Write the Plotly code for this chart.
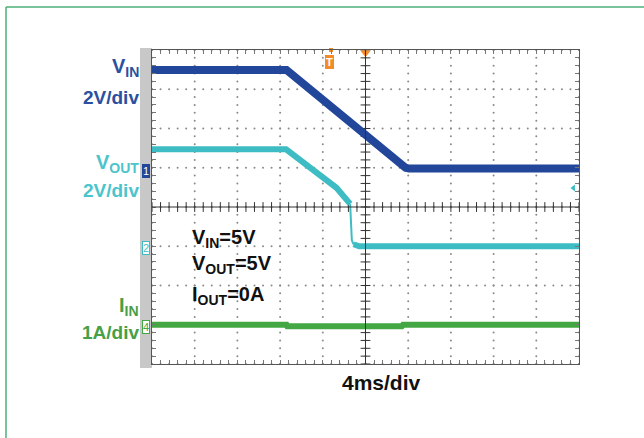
import plotly.graph_objects as go

# ---------------- data (oscilloscope divisions: x 0..10, y 0..8) ----------------
vin_t = [0.0, 3.15, 5.94, 6.02, 10.0]
vin_v = [7.49, 7.49, 5.00, 4.98, 4.98]

vout_t = [0.0, 3.14, 4.32, 4.47, 4.58, 4.64, 4.665, 4.68, 4.72, 4.85, 10.0]
vout_v = [5.47, 5.47, 4.49, 4.30, 4.18, 4.08, 3.60, 3.15, 3.05, 3.00, 3.00]

iin_t = [0.0, 3.15, 3.17, 5.85, 5.88, 10.0]
iin_v = [1.00, 1.00, 0.96, 0.96, 1.00, 1.00]

ch_labels = [("V<sub>IN</sub>", "2V/div"), ("V<sub>OUT</sub>", "2V/div"), ("I<sub>IN</sub>", "1A/div")]
cond_labels = ["V<sub>IN</sub>=5V", "V<sub>OUT</sub>=5V", "I<sub>OUT</sub>=0A"]
time_label = "4ms/div"

# ---------------- layout geometry ----------------
W, H = 644, 438
L, R, T, B = 152, 579, 50, 364
pw, ph = R - L, B - T

def xp(px):
    return (px - L) / pw

def yp(py):
    return (B - py) / ph

C_VIN = "#22479a"
C_VOUT = "#3dbdc3"
C_IIN = "#43a843"
T_VIN = "#2c50a0"
T_VOUT = "#4cc4cc"
T_IIN = "#479f47"
FONT = "Liberation Sans, Arial, sans-serif"

fig = go.Figure()

# grid dots
gx, gy = [], []
for j in range(9):
    for k in range(51):
        gx.append(k * 0.2); gy.append(j)
for i in range(11):
    for k in range(41):
        gx.append(i); gy.append(k * 0.2)
fig.add_trace(go.Scatter(x=gx, y=gy, mode="markers",
                         marker=dict(size=2, color="#8a8a8a"), hoverinfo="skip"))

# center cross ticks
tx = [k * 0.2 for k in range(51)]
fig.add_trace(go.Scatter(x=tx, y=[4] * len(tx), mode="markers",
                         marker=dict(symbol="line-ns", size=7, line=dict(width=1, color="#333")),
                         hoverinfo="skip"))
ty = [k * 0.2 for k in range(41)]
fig.add_trace(go.Scatter(x=[5] * len(ty), y=ty, mode="markers",
                         marker=dict(symbol="line-ew", size=7, line=dict(width=1, color="#333")),
                         hoverinfo="skip"))

# waveforms
fig.add_trace(go.Scatter(x=iin_t, y=iin_v, mode="lines",
                         line=dict(color=C_IIN, width=6), hoverinfo="skip"))
fig.add_trace(go.Scatter(x=vout_t[:6], y=vout_v[:6], mode="lines",
                         line=dict(color=C_VOUT, width=6), hoverinfo="skip"))
fig.add_trace(go.Scatter(x=vout_t[5:9], y=vout_v[5:9], mode="lines",
                         line=dict(color=C_VOUT, width=2), hoverinfo="skip"))
fig.add_trace(go.Scatter(x=vout_t[8:], y=vout_v[8:], mode="lines",
                         line=dict(color=C_VOUT, width=6), hoverinfo="skip"))
fig.add_trace(go.Scatter(x=vin_t, y=vin_v, mode="lines",
                         line=dict(color=C_VIN, width=8), hoverinfo="skip"))

# trigger marks
fig.add_trace(go.Scatter(x=[5.0], y=[7.93], mode="markers", cliponaxis=False,
                         marker=dict(symbol="triangle-down", size=9, color="#f28c28"),
                         hoverinfo="skip"))
fig.add_trace(go.Scatter(x=[(331 - L) / 42.7], y=[8.0], mode="markers", cliponaxis=False,
                         marker=dict(symbol="square", size=4, color="#f28c28"),
                         hoverinfo="skip"))
fig.add_trace(go.Scatter(x=[9.87], y=[(B - 188) / 39.25], mode="markers", cliponaxis=False,
                         marker=dict(symbol="triangle-left", size=6, color=C_VOUT),
                         hoverinfo="skip"))
# bottom small marks
fig.add_trace(go.Scatter(x=[(162 - L) / 42.7, (486 - L) / 42.7], y=[-0.13, -0.13], mode="markers",
                         cliponaxis=False,
                         marker=dict(symbol="line-ew", size=8, line=dict(width=2, color=C_VOUT)),
                         hoverinfo="skip"))
fig.add_trace(go.Scatter(x=[(335 - L) / 42.7, (530 - L) / 42.7], y=[-0.08, -0.08], mode="markers",
                         cliponaxis=False,
                         marker=dict(symbol="triangle-down", size=5, color="#aaaaaa"),
                         hoverinfo="skip"))

shapes = [
    # gray strip
    dict(type="rect", xref="paper", yref="paper", x0=xp(140), x1=xp(152), y0=yp(368), y1=yp(48),
         fillcolor="#c8c8c8", line=dict(width=0), layer="below"),
    # center cross
    dict(type="line", xref="x", yref="y", x0=5, x1=5, y0=0, y1=8, line=dict(color="#333", width=1)),
    dict(type="line", xref="x", yref="y", x0=0, x1=10, y0=4, y1=4, line=dict(color="#333", width=1)),
    # page border (top and left)
    dict(type="line", xref="paper", yref="paper", x0=xp(6), x1=xp(650), y0=yp(7), y1=yp(7),
         line=dict(color="#4caf78", width=1.5)),
    dict(type="line", xref="paper", yref="paper", x0=xp(6), x1=xp(6), y0=yp(7), y1=yp(445),
         line=dict(color="#4caf78", width=1.5)),
]

ann = []
# channel labels (left)
lab_pos = [(67, 97), (163, 190), (306, 332)]
lab_col = [T_VIN, T_VOUT, T_IIN]
for (a, b), (ya, yb), c in zip(ch_labels, lab_pos, lab_col):
    ann.append(dict(xref="paper", yref="paper", x=xp(141), y=yp(ya), xanchor="right", yanchor="middle",
                    text="<b>" + a + "</b>", showarrow=False, font=dict(family=FONT, size=20, color=c)))
    ann.append(dict(xref="paper", yref="paper", x=xp(141), y=yp(yb), xanchor="right", yanchor="middle",
                    text="<b>" + b + "</b>", showarrow=False, font=dict(family=FONT, size=19, color=c)))

# conditions text inside
for txt, yy in zip(cond_labels, [238, 264, 295]):
    ann.append(dict(xref="paper", yref="paper", x=xp(190), y=yp(yy), xanchor="left", yanchor="middle",
                    text="<b>" + txt + "</b>", showarrow=False,
                    font=dict(family=FONT, size=20, color="#111")))

ann.append(dict(xref="paper", yref="paper", x=xp(381), y=yp(382), xanchor="center", yanchor="middle",
                text="<b>" + time_label + "</b>", showarrow=False,
                font=dict(family=FONT, size=21, color="#111")))

# channel ground markers
for txt, py, fg, bg, bc in [("1", 171, "white", C_VIN, C_VIN),
                            ("2", 248, C_VOUT, "white", C_VOUT),
                            ("4", 327, C_IIN, "white", C_IIN)]:
    ann.append(dict(xref="paper", yref="paper", x=xp(146), y=yp(py), xanchor="center", yanchor="middle",
                    text=txt, showarrow=False, font=dict(family=FONT, size=11, color=fg),
                    bgcolor=bg, bordercolor=bc, borderwidth=1, borderpad=0))
# trigger T
ann.append(dict(xref="paper", yref="paper", x=xp(329), y=yp(62), xanchor="center", yanchor="middle",
                text="<b>T</b>", showarrow=False, font=dict(family=FONT, size=11, color="white"),
                bgcolor="#f28c28", bordercolor="#f28c28", borderwidth=1, borderpad=0))

fig.update_layout(
    width=W, height=H,
    margin=dict(l=L, r=W - R, t=T, b=H - B),
    paper_bgcolor="white", plot_bgcolor="white",
    showlegend=False,
    shapes=shapes, annotations=ann,
    xaxis=dict(range=[0, 10], showgrid=False, zeroline=False, showticklabels=False,
               showline=True, linecolor="#555", linewidth=1, mirror="ticks",
               ticks="inside", dtick=0.2, tick0=0, ticklen=4, tickcolor="#777", tickwidth=1),
    yaxis=dict(range=[0, 8], showgrid=False, zeroline=False, showticklabels=False,
               showline=True, linecolor="#555", linewidth=1, mirror="ticks",
               ticks="inside", dtick=0.2, tick0=0, ticklen=4, tickcolor="#777", tickwidth=1),
)

fig.write_html("out.html")
